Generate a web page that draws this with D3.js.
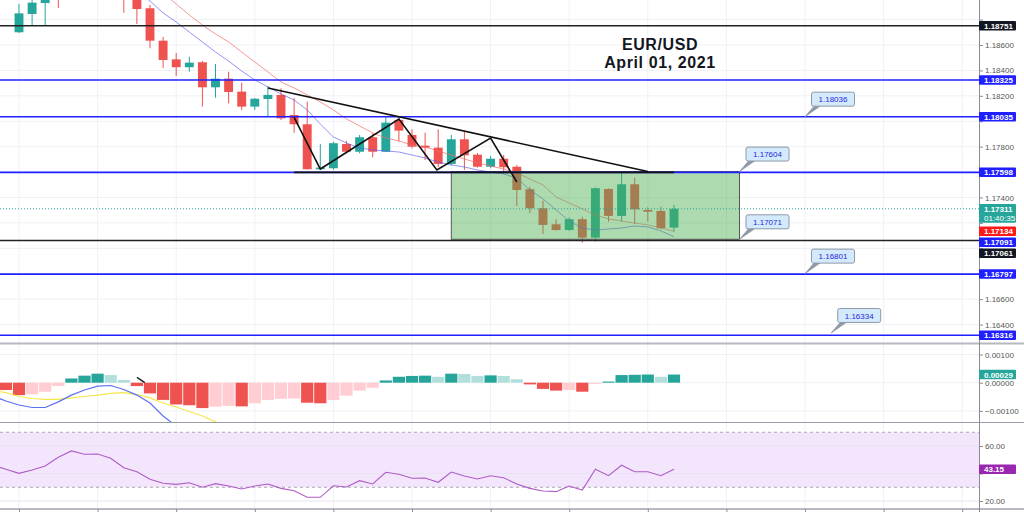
<!DOCTYPE html>
<html>
<head>
<meta charset="utf-8">
<script src="https://cdn.jsdelivr.net/npm/d3@7"></script>
<style>
  html, body { margin: 0; padding: 0; background: #fff; }
  svg { display: block; font-family: "Liberation Sans", Arial, sans-serif; }
</style>
</head>
<body>
<div id="chart"></div>
<script>
// 4h candles, index 0 = first fully visible bar
const candleStart = -1
const opens  = [1.19050,1.18700,1.18844,1.18930,1.19000,1.19010,1.19120,1.19200,1.19150,1.19080,1.19000,1.18889,1.18634,1.18487,1.18425,1.18464,1.18267,1.18335,1.18233,1.18115,1.18175,1.18207,1.18049,1.17976,1.17622,1.17630,1.17821,1.17760,1.17874,1.17760,1.18010,1.17892,1.17808,1.17792,1.17664,1.17858,1.17737,1.17642,1.17705,1.17642,1.17465,1.17315,1.17189,1.17144,1.17229,1.17084,1.17467,1.17255,1.17504,1.17302,1.17294,1.17163]
const highs  = [1.19080,1.18923,1.18990,1.19030,1.19060,1.19150,1.19250,1.19240,1.19190,1.19120,1.19030,1.18915,1.18663,1.18537,1.18508,1.18474,1.18451,1.18390,1.18303,1.18183,1.18277,1.18259,1.18183,1.18154,1.17821,1.17839,1.17845,1.17892,1.17905,1.18031,1.18031,1.17937,1.17910,1.17937,1.17892,1.17915,1.17750,1.17727,1.17735,1.17656,1.17485,1.17375,1.17229,1.17244,1.17249,1.17480,1.17471,1.17595,1.17556,1.17323,1.17328,1.17341]
const lows   = [1.18965,1.18695,1.18752,1.18752,1.18891,1.18980,1.19080,1.19100,1.19020,1.18854,1.18765,1.18574,1.18419,1.18356,1.18390,1.18115,1.18185,1.18141,1.18089,1.18089,1.18041,1.18010,1.17910,1.17620,1.17617,1.17617,1.17753,1.17748,1.17716,1.17758,1.17839,1.17787,1.17695,1.17638,1.17653,1.17617,1.17635,1.17630,1.17585,1.17333,1.17276,1.17113,1.17139,1.17139,1.17045,1.17052,1.17210,1.17210,1.17192,1.17210,1.17150,1.17131]
const closes = [1.18980,1.18849,1.18933,1.18990,1.18960,1.19120,1.19200,1.19150,1.19080,1.19000,1.18883,1.18634,1.18482,1.18425,1.18461,1.18267,1.18335,1.18230,1.18115,1.18177,1.18207,1.18023,1.17976,1.17622,1.17635,1.17827,1.17760,1.17874,1.17760,1.17989,1.17926,1.17800,1.17792,1.17664,1.17858,1.17732,1.17642,1.17705,1.17638,1.17459,1.17315,1.17184,1.17144,1.17229,1.17084,1.17473,1.17255,1.17504,1.17307,1.17288,1.17158,1.17311]

// moving averages
const fastMaStart = 9
const fastMa = [1.19033,1.18946,1.18852,1.18781,1.18702,1.18624,1.18545,1.18474,1.18395,1.18325,1.18270,1.18214,1.18167,1.18089,1.17978,1.17876,1.17829,1.17790,1.17774,1.17766,1.17758,1.17734,1.17711,1.17679,1.17656,1.17640,1.17616,1.17601,1.17585,1.17553,1.17459,1.17388,1.17302,1.17215,1.17160,1.17144,1.17152,1.17160,1.17176,1.17168,1.17137,1.17091]
const slowMaStart = 11
const slowMa = [1.19009,1.18923,1.18836,1.18757,1.18687,1.18624,1.18545,1.18466,1.18388,1.18309,1.18262,1.18207,1.18152,1.18089,1.18018,1.17963,1.17908,1.17868,1.17845,1.17813,1.17797,1.17766,1.17734,1.17703,1.17672,1.17648,1.17624,1.17593,1.17546,1.17498,1.17404,1.17357,1.17310,1.17262,1.17231,1.17215,1.17199,1.17184,1.17160,1.17134]

// MACD
const histStart = -1
const macdHist = [-0.00026,-0.00044,-0.00041,-0.00032,-0.00012,0.00015,0.00025,0.00032,0.00027,0.00010,-0.00012,-0.00038,-0.00061,-0.00077,-0.00080,-0.00090,-0.00085,-0.00082,-0.00084,-0.00073,-0.00061,-0.00057,-0.00056,-0.00071,-0.00073,-0.00061,-0.00046,-0.00028,-0.00018,0.00008,0.00021,0.00024,0.00025,0.00021,0.00032,0.00031,0.00024,0.00026,0.00024,0.00012,-0.00006,-0.00022,-0.00028,-0.00026,-0.00032,-0.00004,0.00004,0.00027,0.00028,0.00029,0.00021,0.00029]
const macdStart = -2
const macdLine = [-0.00047,-0.00065,-0.00079,-0.00088,-0.00088,-0.00068,-0.00044,-0.00026,-0.00012,-0.00010,-0.00024,-0.00044,-0.00072,-0.00118,-0.00154,-0.00203]
const signalLine = [-0.00028,-0.00035,-0.00049,-0.00056,-0.00059,-0.00059,-0.00054,-0.00049,-0.00044,-0.00038,-0.00035,-0.00042,-0.00054,-0.00072,-0.00086,-0.00102,-0.00118,-0.00139,-0.00160]

// RSI
const rsiStart = -2
const rsi = [46.2,43.1,40.1,42.5,45.5,51.8,56.4,54.0,54.2,51.1,44.2,41.3,35.8,32.9,32.1,33.3,30.0,32.6,30.9,28.7,30.9,32.4,29.2,27.5,22.7,22.7,31.1,30.2,34.8,32.4,40.9,39.4,36.5,36.7,33.6,41.1,38.2,36.0,38.4,36.9,32.4,29.2,27.3,26.8,30.9,28.0,43.1,38.4,46.0,41.3,41.3,38.4,43.15]

// drawings
const blackLevels = [1.18751, 1.17061]
const blueLevels = [1.18325, 1.18035, 1.17598, 1.16797, 1.16316]
const zigIdx = [21, 23, 29, 31.9, 36, 38]
const zigPrice = [1.18030, 1.17624, 1.18018, 1.17616, 1.17868, 1.17522]
const trendIdx = [19, 48]
const trendPrice = [1.18262, 1.17605]
const necklineIdx = [21, 50]
const necklinePrice = 1.17598
const boxIdx = [33, 55]
const boxPrice = [1.17604, 1.17071]
const calloutIdx = [60, 55, 55, 60, 62]
const calloutPrice = [1.18036, 1.17604, 1.17071, 1.16801, 1.16334]
const macdMarkIdx = [9.0, 9.6]
const macdMarkVal = [0.00019, 0.0]
const timeLeft = '01:40:35'

// tick values
const priceTicks = d3.range(582, 595).map(k => +(k * 0.002).toFixed(3))
const macdTicks = [0.001, 0, -0.001]
const rsiTicks = [60, 40, 20]
const dayTicks = d3.range(0, 78, 6)

const W = 1024, H = 512
const axisX = 979
const teal = '#26a69a', red = '#ef5350', blue = '#1f1fff', ink = '#131722'

const x = d3.scaleLinear().domain([0, 50]).range([19, 674])
const yMain = d3.scaleLinear().domain([1.18954, 1.16255]).range([0, 343])
const yMacd = d3.scaleLinear().domain([0.001, -0.001]).range([354.5, 410.9])
const yRsi = d3.scaleLinear().domain([60, 20]).range([446, 501])

const svg = d3.select('#chart').append('svg')
  .attr('width', W).attr('height', H)

//clip paths for panes
const defs = svg.append('defs')
const addClip = (id, y0, y1) => defs.append('clipPath').attr('id', id)
  .append('rect').attr('x', 0).attr('y', y0).attr('width', axisX).attr('height', y1 - y0)
addClip('cMain', 0, 343)
addClip('cMacd', 344, 422)
addClip('cRsi', 423, 508)

//grid
const grid = svg.append('g').attr('stroke', '#eef1f6').attr('stroke-width', 1)
grid.selectAll('.vg').data(dayTicks).join('line')
  .attr('x1', d => x(d)).attr('x2', d => x(d)).attr('y1', 0).attr('y2', 508)
grid.selectAll('.hm').data(priceTicks).join('line')
  .attr('x1', 0).attr('x2', axisX).attr('y1', d => yMain(d)).attr('y2', d => yMain(d))
grid.selectAll('.hd').data(macdTicks).join('line')
  .attr('x1', 0).attr('x2', axisX).attr('y1', d => yMacd(d)).attr('y2', d => yMacd(d))

//rsi band
const rsiG = svg.append('g').attr('clip-path', 'url(#cRsi)')
rsiG.append('rect')
  .attr('x', 0).attr('width', axisX)
  .attr('y', yRsi(70)).attr('height', yRsi(30) - yRsi(70))
  .attr('fill', '#f3e6fc')
rsiG.selectAll('.rg').data(rsiTicks).join('line')
  .attr('x1', 0).attr('x2', axisX).attr('y1', d => yRsi(d)).attr('y2', d => yRsi(d))
  .attr('stroke', '#e8e3f0')
rsiG.selectAll('.rb').data([70, 30]).join('line')
  .attr('x1', 0).attr('x2', axisX).attr('y1', d => yRsi(d)).attr('y2', d => yRsi(d))
  .attr('stroke', '#a8a8b0').attr('stroke-dasharray', '3,3')

//candles
const candles = opens.map((o, k) => ({ i: candleStart + k, o, h: highs[k], l: lows[k], c: closes[k] }))
const mainG = svg.append('g').attr('clip-path', 'url(#cMain)')
const bw = 8.9
mainG.selectAll('.wick').data(candles).join('line')
  .attr('x1', d => x(d.i)).attr('x2', d => x(d.i))
  .attr('y1', d => yMain(d.h)).attr('y2', d => yMain(d.l))
  .attr('stroke', d => d.c >= d.o ? teal : red).attr('stroke-width', 1)
mainG.selectAll('.body').data(candles).join('rect')
  .attr('x', d => x(d.i) - bw / 2).attr('width', bw)
  .attr('y', d => yMain(Math.max(d.o, d.c)))
  .attr('height', d => Math.max(1, Math.abs(yMain(d.o) - yMain(d.c))))
  .attr('fill', d => d.c >= d.o ? teal : red)

//moving averages
const maLine = start => d3.line().x((d, k) => x(start + k)).y(d => yMain(d))
mainG.append('path').datum(slowMa).attr('d', maLine(slowMaStart))
  .attr('fill', 'none').attr('stroke', '#f26b6b').attr('stroke-opacity', 0.7).attr('stroke-width', 1)
mainG.append('path').datum(fastMa).attr('d', maLine(fastMaStart))
  .attr('fill', 'none').attr('stroke', '#5a5af0').attr('stroke-opacity', 0.65).attr('stroke-width', 1)

//green zone
mainG.append('rect')
  .attr('x', x(boxIdx[0])).attr('width', x(boxIdx[1]) - x(boxIdx[0]))
  .attr('y', yMain(boxPrice[0])).attr('height', yMain(boxPrice[1]) - yMain(boxPrice[0]))
  .attr('fill', '#4caf50').attr('fill-opacity', 0.46)
  .attr('stroke', '#555').attr('stroke-width', 1)

//current price dotted line
mainG.append('line')
  .attr('x1', 0).attr('x2', axisX)
  .attr('y1', yMain(closes[closes.length - 1])).attr('y2', yMain(closes[closes.length - 1]))
  .attr('stroke', teal).attr('stroke-dasharray', '1,2')

//horizontal levels
mainG.selectAll('.bl').data(blueLevels).join('line')
  .attr('x1', 0).attr('x2', axisX).attr('y1', d => yMain(d)).attr('y2', d => yMain(d))
  .attr('stroke', blue).attr('stroke-width', 1.6)
mainG.selectAll('.kl').data(blackLevels).join('line')
  .attr('x1', 0).attr('x2', axisX).attr('y1', d => yMain(d)).attr('y2', d => yMain(d))
  .attr('stroke', '#222').attr('stroke-width', 1.6)

//trend, neckline and zigzag
mainG.append('line')
  .attr('x1', x(trendIdx[0])).attr('y1', yMain(trendPrice[0]))
  .attr('x2', x(trendIdx[1])).attr('y2', yMain(trendPrice[1]))
  .attr('stroke', '#111').attr('stroke-width', 1.6)
mainG.append('line')
  .attr('x1', x(necklineIdx[0])).attr('x2', x(necklineIdx[1]))
  .attr('y1', yMain(necklinePrice)).attr('y2', yMain(necklinePrice))
  .attr('stroke', '#111').attr('stroke-width', 1.6)
mainG.append('path')
  .datum(zigIdx.map((d, k) => [d, zigPrice[k]]))
  .attr('d', d3.line().x(d => x(d[0])).y(d => yMain(d[1])))
  .attr('fill', 'none').attr('stroke', '#111').attr('stroke-width', 1.6)

//callouts
const callouts = svg.append('g')
calloutPrice.forEach((p, k) => {
  const ax = x(calloutIdx[k]), ay = yMain(p)
  const g = callouts.append('g')
  g.append('path')
    .attr('d', `M${ax},${ay}L${ax + 9},${ay - 10.5}L${ax + 15},${ay - 10.5}Z`)
    .attr('fill', '#8f99a6').attr('stroke', '#8f99a6').attr('stroke-width', 0.8)
  g.append('rect')
    .attr('x', ax + 6.5).attr('y', ay - 24.5).attr('width', 43).attr('height', 14).attr('rx', 2)
    .attr('fill', '#d3e9fc').attr('stroke', '#8f99a6').attr('stroke-width', 1)
  g.append('text')
    .attr('x', ax + 28).attr('y', ay - 14.3)
    .attr('text-anchor', 'middle').attr('font-size', 8).attr('fill', '#2a2ad8')
    .text(d3.format('.5f')(p))
})

//title
const title = svg.append('g')
  .attr('font-family', '"Liberation Sans", Arial, sans-serif')
  .attr('font-weight', 'bold').attr('font-size', 16).attr('fill', ink)
  .attr('letter-spacing', 0.6).attr('text-anchor', 'middle')
title.append('text').attr('x', 660).attr('y', 49.5).text('EUR/USD')
title.append('text').attr('x', 660).attr('y', 67.5).text('April 01, 2021')

//macd
const macdG = svg.append('g').attr('clip-path', 'url(#cMacd)')
const histColor = (v, k) => {
  const prev = k > 0 ? macdHist[k - 1] : v
  if (v >= 0) return v >= prev ? teal : '#b2dfdb'
  return v <= prev ? red : '#ffcdd2'
}
macdG.selectAll('.hist').data(macdHist).join('rect')
  .attr('x', (d, k) => x(histStart + k) - 6.1).attr('width', 12.2)
  .attr('y', d => yMacd(Math.max(d, 0)))
  .attr('height', d => Math.abs(yMacd(d) - yMacd(0)))
  .attr('fill', histColor)
const macdPath = start => d3.line().x((d, k) => x(start + k)).y(d => yMacd(d))
macdG.append('path').datum(signalLine).attr('d', macdPath(macdStart))
  .attr('fill', 'none').attr('stroke', '#f5e74a').attr('stroke-width', 1.2)
macdG.append('path').datum(macdLine).attr('d', macdPath(macdStart))
  .attr('fill', 'none').attr('stroke', '#5c70f2').attr('stroke-width', 1.2)
macdG.append('line')
  .attr('x1', x(macdMarkIdx[0])).attr('y1', yMacd(macdMarkVal[0]))
  .attr('x2', x(macdMarkIdx[1])).attr('y2', yMacd(macdMarkVal[1]))
  .attr('stroke', '#222').attr('stroke-width', 1.5)

//rsi line
rsiG.append('path').datum(rsi)
  .attr('d', d3.line().x((d, k) => x(rsiStart + k)).y(d => yRsi(d)))
  .attr('fill', 'none').attr('stroke', '#b05bc9').attr('stroke-width', 1.1)

//pane separators
const sep = svg.append('g')
sep.append('line').attr('x1', 0).attr('x2', W).attr('y1', 343.5).attr('y2', 343.5)
  .attr('stroke', '#b6b9c1').attr('stroke-width', 2)
sep.append('line').attr('x1', 0).attr('x2', W).attr('y1', 422.5).attr('y2', 422.5)
  .attr('stroke', '#9a9da6').attr('stroke-width', 1)
sep.append('line').attr('x1', 0).attr('x2', W).attr('y1', 509).attr('y2', 509)
  .attr('stroke', '#b6b9c1').attr('stroke-width', 2)
sep.append('line').attr('x1', axisX + 0.5).attr('x2', axisX + 0.5).attr('y1', 0).attr('y2', H)
  .attr('stroke', '#8a8d96').attr('stroke-width', 1)

//price labels on the axis, stacked so they do not collide
const lastClose = closes[closes.length - 1]
const labels = [
  ...blackLevels.map(p => ({ p, fill: '#131722' })),
  ...blueLevels.map(p => ({ p, fill: blue })),
  { p: fastMa[fastMa.length - 1], fill: blue },
  { p: slowMa[slowMa.length - 1], fill: '#ff1a1a' },
  { p: lastClose, fill: teal, sub: timeLeft }
].map(d => ({ ...d, y: yMain(d.p) }))
  .sort((a, b) => a.y - b.y)
let prevBottom = -Infinity
labels.forEach(d => {
  if (d.y - 4.75 < prevBottom + 1.5) d.y = prevBottom + 1.5 + 4.75
  d.top = d.y - 4.75
  d.bottom = d.y + (d.sub ? 14 : 4.75)
  prevBottom = d.bottom
})
const lastHist = macdHist[macdHist.length - 1]
const lastRsi = rsi[rsi.length - 1]
const sideBoxes = [
  ...labels,
  { y: yMacd(lastHist), top: yMacd(lastHist) - 4.75, bottom: yMacd(lastHist) + 4.75 },
  { y: yRsi(lastRsi), top: yRsi(lastRsi) - 4.75, bottom: yRsi(lastRsi) + 4.75 }
]
// tick labels hidden behind a value label are dropped, like the platform does
const covered = ty => sideBoxes.some(b => ty + 3 > b.top + 1 && ty - 3 < b.bottom - 1)

//axes
const styleAxis = g => {
  g.select('.domain').remove()
  g.selectAll('line').attr('stroke', '#8a8d96')
  g.selectAll('text').attr('fill', '#555').attr('font-size', 8)
    .attr('font-family', '"Liberation Sans", Arial, sans-serif')
}
const rightAxis = (scale, ticks, fmt) => {
  const g = svg.append('g').attr('transform', `translate(${axisX},0)`)
    .call(d3.axisRight(scale).tickValues(ticks).tickSize(4).tickPadding(2).tickFormat(d3.format(fmt)))
    .call(styleAxis)
  g.selectAll('.tick text').filter(d => covered(scale(d))).remove()
}
rightAxis(yMain, priceTicks, '.5f')
rightAxis(yMacd, macdTicks, '.5f')
rightAxis(yRsi, rsiTicks, '.2f')
svg.append('g').attr('transform', 'translate(0,509)')
  .call(d3.axisBottom(x).tickValues(dayTicks).tickSize(4).tickFormat(''))
  .call(styleAxis)

const lab = svg.append('g').selectAll('g').data(labels).join('g')
lab.append('rect')
  .attr('x', axisX).attr('width', 37)
  .attr('y', d => d.top).attr('height', d => d.bottom - d.top)
  .attr('rx', 1).attr('fill', d => d.fill)
lab.append('text')
  .attr('x', axisX + 5).attr('y', d => d.y + 3)
  .attr('font-size', 8).attr('font-weight', 'bold').attr('fill', '#fff')
  .text(d => d3.format('.5f')(d.p))
lab.filter(d => d.sub).append('text')
  .attr('x', axisX + 5).attr('y', d => d.y + 12)
  .attr('font-size', 8).attr('fill', '#fff')
  .text(d => d.sub)

//macd and rsi value labels
const sideLabel = (y, fill, text) => {
  svg.append('rect').attr('x', axisX).attr('width', 37).attr('y', y - 4.75).attr('height', 9.5)
    .attr('rx', 1).attr('fill', fill)
  svg.append('text').attr('x', axisX + 5).attr('y', y + 3)
    .attr('font-size', 8).attr('font-weight', 'bold').attr('fill', '#fff').text(text)
}
sideLabel(yMacd(lastHist), teal, d3.format('.5f')(lastHist))
sideLabel(yRsi(lastRsi), '#9a27b0', d3.format('.2f')(lastRsi))
</script>
</body>
</html>
